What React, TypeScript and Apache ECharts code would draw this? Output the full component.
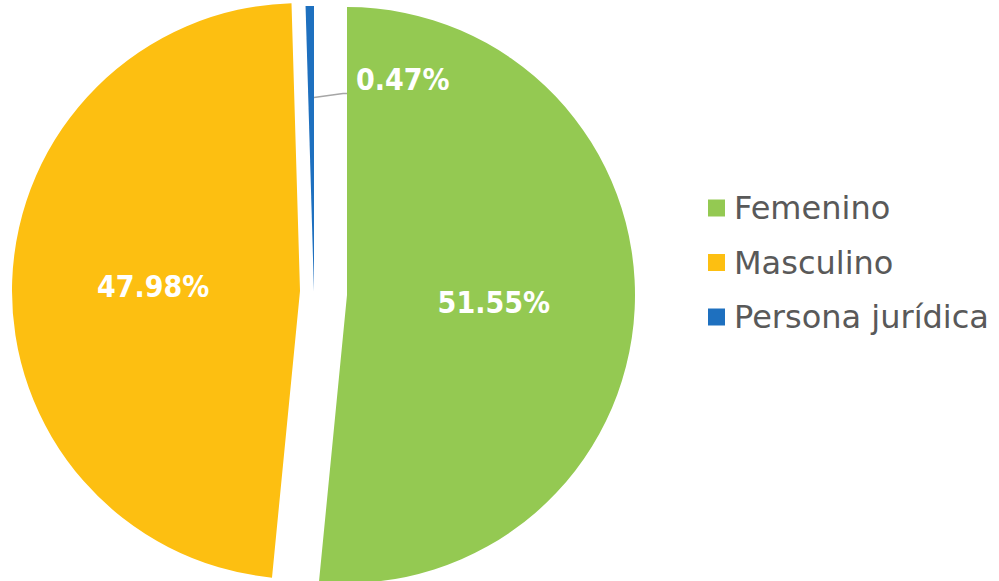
import React, { useEffect, useRef } from "react";
import * as echarts from "echarts";

const categories = ["Femenino", "Masculino", "Persona jurídica"];
const values = [51.55, 47.98, 0.47];
const colors = ["#94C952", "#FDBF11", "#1E70BF"];
// each slice is exploded by its own amount, so each gets its own center
const centers: [number, number][] = [[347, 295], [300, 291], [314, 292]];
const radii = [288, 288, 286];

export default function App() {
  const ref = useRef<HTMLDivElement>(null);
  useEffect(() => {
    if (!ref.current) return;
    const chart = echarts.init(ref.current, null, { renderer: "svg" });
    const total = values.reduce((a, b) => a + b, 0);
    const series: any[] = categories.map((name, i) => {
      const before = values.slice(0, i).reduce((a, b) => a + b, 0);
      const startAngle = 90 - (before / total) * 360;
      const isSmall = i === 2;
      const endDeg = ((before + values[i]) / total) * 360;
      const [cx, cy] = centers[i];
      const r = radii[i];
      const sx = cx + r * 0.68 * Math.sin((endDeg * Math.PI) / 180);
      const sy = cy - r * 0.68 * Math.cos((endDeg * Math.PI) / 180);
      return {
        type: "pie",
        center: centers[i],
        radius: radii[i],
        startAngle,
        clockwise: true,
        silent: true,
        avoidLabelOverlap: false,
        emphasis: { disabled: true },
        label: {
          show: true,
          position: isSmall ? "outside" : "inside",
          color: "#FFFFFF",
          fontFamily: "DejaVu Sans Condensed",
          fontWeight: "bold",
          fontSize: 30,
          formatter: (p: any) => Number(p.value).toFixed(2) + "%",
        },
        labelLine: {
          show: isSmall,
          lineStyle: { color: "#A6A6A6", width: 1.5 },
        },
        labelLayout: isSmall
          ? (p: any) => {
              if (p.dataIndex !== 0) return {};
              return {
                x: sx + 42,
                y: sy - 18,
                align: "left",
                verticalAlign: "middle",
                labelLinePoints: [
                  [sx, sy],
                  [sx + 29, sy - 4],
                  [sx + 38, sy - 4],
                ],
              };
            }
          : undefined,
        data: [
          { name, value: values[i], itemStyle: { color: colors[i] } },
          {
            name: "",
            value: total - values[i],
            itemStyle: { color: "rgba(0,0,0,0)" },
            label: { show: false },
            labelLine: { show: false },
          },
        ],
      };
    });
    chart.setOption({
      animation: false,
      legend: {
        data: categories,
        orient: "vertical",
        left: 703,
        top: 185,
        icon: "rect",
        itemWidth: 17,
        itemHeight: 17,
        itemGap: 18.5,
        selectedMode: false,
        textStyle: {
          fontFamily: "DejaVu Sans",
          fontSize: 32,
          color: "#595959",
          lineHeight: 36,
          padding: [0, 0, 0, 4],
        },
      },
      series,
    });
    return () => chart.dispose();
  }, []);
  return (
    <div
      ref={ref}
      style={{ position: "fixed", left: 0, top: 0, width: 999, height: 581, background: "#FFFFFF" }}
    />
  );
}
